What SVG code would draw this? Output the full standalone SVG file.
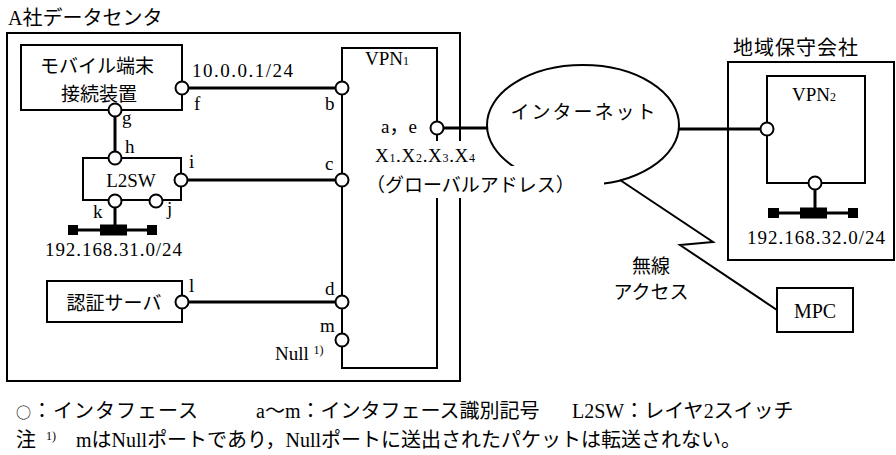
<svg xmlns="http://www.w3.org/2000/svg" width="896" height="455" viewBox="0 0 896 455">
<style>
.box{fill:none;stroke:#000;stroke-width:2}
.thick{fill:none;stroke:#000;stroke-width:3}
.thin{fill:none;stroke:#000;stroke-width:2}
.if{fill:#fff;stroke:#000;stroke-width:2}
.blk{fill:#000}
.mask{fill:#fff}
text{font-family:"Liberation Serif","Times New Roman","DejaVu Serif",serif;font-size:19px;fill:#000}
.jp{font-family:"Noto Sans CJK JP","Noto Sans CJK SC",sans-serif}
.mid{text-anchor:middle}
.sub{font-size:12px}
.lg{font-size:20px}
</style>
<rect width="896" height="455" fill="#fff"/>

<g id="datacenter">
<rect class="box" x="7" y="33" width="453" height="348"/>
<text x="8" y="25" class="lg">A<tspan class="jp">社データセンタ</tspan></text>
</g>

<g id="maintenance">
<rect class="box" x="728" y="62" width="166" height="198"/>
<text x="733" y="55" class="jp lg" letter-spacing="1">地域保守会社</text>
</g>

<g id="vpn1">
<rect class="box" x="342" y="48" width="95" height="320"/>
<text x="365" y="65">VPN<tspan class="sub">1</tspan></text>
</g>

<g id="mobile">
<rect class="box" x="21" y="45" width="161" height="65"/>
<text class="jp mid" x="97" y="73">モバイル端末</text>
<text class="jp mid" x="99" y="101">接続装置</text>
</g>

<g id="l2sw">
<rect class="box" x="83" y="158" width="98" height="42"/>
<text class="mid" x="131" y="187">L2SW</text>
</g>

<g id="auth">
<rect class="box" x="47" y="281" width="135" height="41"/>
<text class="jp mid" x="114" y="310">認証サーバ</text>
</g>

<g id="internet">
<ellipse class="thin" cx="583" cy="125" rx="96" ry="60"/>
<text class="jp mid" x="584" y="119" letter-spacing="2">インターネット</text>
</g>

<g id="vpn2">
<rect class="box" x="767" y="76" width="98" height="107"/>
<text x="792" y="101">VPN<tspan class="sub">2</tspan></text>
</g>

<g id="mpc">
<rect class="box" x="777" y="288" width="76" height="44"/>
<text class="mid lg" x="815" y="318">MPC</text>
</g>

<g id="lan1">
<line class="thick" x1="68" y1="230" x2="157" y2="230"/>
<rect class="blk" x="68" y="225" width="10" height="10"/>
<rect class="blk" x="147" y="225" width="10" height="10"/>
<rect class="blk" x="100" y="224.5" width="27" height="11"/>
<text x="45" y="256" textLength="137" lengthAdjust="spacing">192.168.31.0/24</text>
</g>

<g id="lan2">
<line class="thick" x1="768" y1="213" x2="858" y2="213"/>
<rect class="blk" x="768" y="208" width="11" height="10"/>
<rect class="blk" x="848" y="208" width="10" height="10"/>
<rect class="blk" x="800" y="207.5" width="27" height="11"/>
<text x="747" y="244" textLength="138" lengthAdjust="spacing">192.168.32.0/24</text>
</g>

<g id="connectors">
<line class="thick" x1="182" y1="88" x2="342" y2="88"/>
<line class="thick" x1="115" y1="110" x2="115" y2="158"/>
<line class="thick" x1="181" y1="180" x2="342" y2="180"/>
<line class="thick" x1="182" y1="302" x2="342" y2="302"/>
<line class="thick" x1="115" y1="201" x2="115" y2="230"/>
<line class="thick" x1="437" y1="128" x2="487" y2="128"/>
<line class="thick" x1="679" y1="129" x2="767" y2="129"/>
<line class="thick" x1="815" y1="183" x2="815" y2="213"/>
<polyline class="thin" points="620,180 713,242 680,245 777,310"/>
</g>

<g id="interfaces">
<circle class="if" cx="182" cy="88" r="6.5"/>
<circle class="if" cx="342" cy="88" r="6.5"/>
<circle class="if" cx="115" cy="110" r="6.5"/>
<circle class="if" cx="115" cy="158" r="6.5"/>
<circle class="if" cx="181" cy="180" r="6.5"/>
<circle class="if" cx="342" cy="180" r="6.5"/>
<circle class="if" cx="115" cy="201" r="6.5"/>
<circle class="if" cx="156" cy="201" r="6.5"/>
<circle class="if" cx="182" cy="302" r="6.5"/>
<circle class="if" cx="342" cy="302" r="6.5"/>
<circle class="if" cx="342" cy="340" r="6.5"/>
<circle class="if" cx="437" cy="128" r="6.5"/>
<circle class="if" cx="767" cy="129" r="6.5"/>
<circle class="if" cx="815" cy="183" r="6.5"/>
</g>

<g id="labels">
<text x="192" y="77" textLength="101" lengthAdjust="spacing">10.0.0.1/24</text>
<text x="194" y="110">f</text>
<text x="325" y="110">b</text>
<text x="122" y="124">g</text>
<text x="125" y="153">h</text>
<text x="189" y="168">i</text>
<text x="325" y="170">c</text>
<text x="93" y="218">k</text>
<text x="167" y="215">j</text>
<text x="189" y="292">l</text>
<text x="325" y="295">d</text>
<text x="320" y="332">m</text>
<text x="275" y="360">Null <tspan class="sub" dy="-6">1)</tspan></text>
<text x="381" y="133">a<tspan class="jp">，</tspan>e</text>
<rect class="mask" x="372" y="141" width="108" height="25"/>
<rect class="mask" x="366" y="166" width="238" height="32"/>
<text x="375" y="162" textLength="100" lengthAdjust="spacing">X<tspan class="sub">1</tspan>.X<tspan class="sub">2</tspan>.X<tspan class="sub">3</tspan>.X<tspan class="sub">4</tspan></text>
<text class="jp" x="366" y="192">（グローバルアドレス）</text>
<text class="jp mid" x="651" y="273">無線</text>
<text class="jp mid" x="651" y="299">アクセス</text>
</g>

<g id="legend">
<text x="16" y="418" class="jp lg" letter-spacing="1"><tspan font-size="15">○</tspan>：インタフェース</text>
<text x="256" y="418" class="lg">a<tspan class="jp">～</tspan>m<tspan class="jp">：インタフェース識別記号</tspan></text>
<text x="572" y="418" class="lg">L2SW<tspan class="jp">：レイヤ</tspan>2<tspan class="jp">スイッチ</tspan></text>
<text x="16" y="447" class="jp lg">注</text>
<text x="46" y="440" class="sub">1)</text>
<text x="76" y="447" class="lg">m<tspan class="jp">は</tspan>Null<tspan class="jp">ポートであり，</tspan>Null<tspan class="jp">ポートに送出されたパケットは転送されない。</tspan></text>
</g>
</svg>
